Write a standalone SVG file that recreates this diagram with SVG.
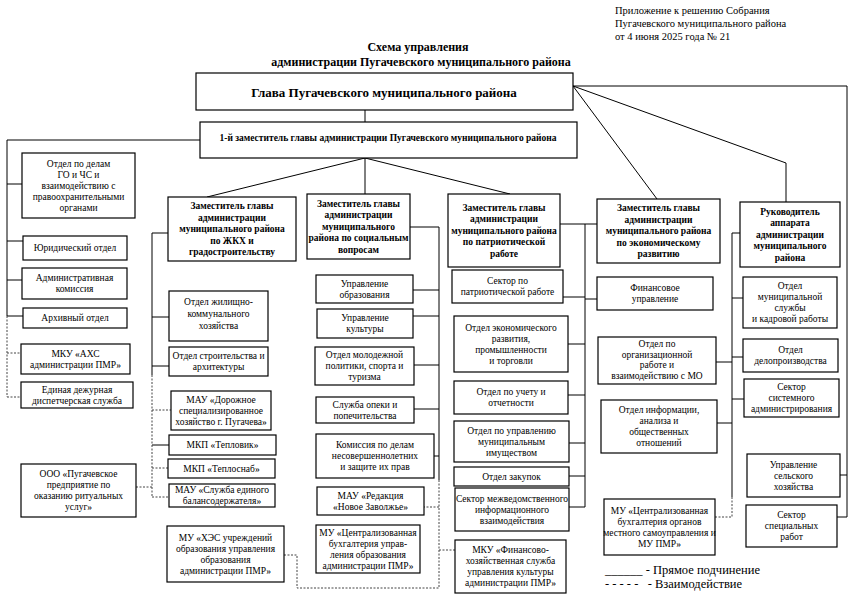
<svg xmlns="http://www.w3.org/2000/svg" width="856" height="601" viewBox="0 0 856 601">
<style>
.bx{fill:#fff;stroke:#000;stroke-width:1.2}
.t{font-family:"Liberation Serif","Times New Roman",serif;font-size:9.5px;text-anchor:middle;fill:#000}
.b{font-weight:bold}
.ln{stroke:#000;stroke-width:1;fill:none}
.dl{stroke:#444;stroke-width:1;fill:none;stroke-dasharray:2 1.5}
.hd{font-family:"Liberation Serif","Times New Roman",serif;font-size:10.5px;fill:#000}
.ti{font-family:"Liberation Serif","Times New Roman",serif;font-size:12px;font-weight:bold;text-anchor:middle;fill:#000}
.lg{font-family:"Liberation Serif","Times New Roman",serif;font-size:12.5px;fill:#000;white-space:pre}
</style>
<rect width="856" height="601" fill="#fff"/>
<g id="header">
<text class="hd" x="615" y="14">Приложение к решению Собрания</text>
<text class="hd" x="615" y="27">Пугачевского муниципального района</text>
<text class="hd" x="615" y="40">от 4 июня 2025 года № 21</text>
<text class="ti" x="418" y="51">Схема управления</text>
<text class="ti" x="421" y="65.5">администрации Пугачевского муниципального района</text>
</g>
<g id="connectors">
<path class="ln" d="M365 110V122"/>
<path class="ln" d="M200 140H7V316M7 184H22M7 241H23M7 280H22M7 316H23"/>
<path class="dl" d="M7 316V397M7 353H21M7 397H21"/>
<path class="ln" d="M365 158L207 197M365 158V194M365 158L510 194"/>
<path class="ln" d="M573 86H847V517M847 475H840M847 517H837"/>
<path class="ln" d="M573 86L786 163V202M573 86L657 199"/>
<path class="ln" d="M168 233H152V375M152 317H169M152 366H169M152 445H169"/>
<path class="dl" d="M152 375V497M152 410H171M152 468H168M152 497H169M136 487H152"/>
<path class="ln" d="M410 227H439V480M439 290H413M439 316H413M439 365H414M439 409H414M439 456H434"/>
<path class="dl" d="M439 480V588H297V555H284M439 507H424M439 550H455"/>
<path class="ln" d="M560 224H597M585 224V507M585 297H563M585 344H568M585 395H568M585 443H569M585 476H569M585 507H569M585 299H597"/>
<path class="ln" d="M740 233H732V497M732 298H743M732 357H743M732 399H744M732 362H716M732 423H717"/>
<path class="dl" d="M732 497V517H715"/>
</g>
<g id="glava"><rect class="bx" x="196" y="73" width="377" height="37"/><text class="t b" x="384" y="96.5" style="font-size:13px">Глава Пугачевского муниципального района</text></g>
<g id="dep1"><rect class="bx" x="200" y="122" width="377" height="36"/><text class="t b" x="388" y="141">1-й заместитель главы администрации Пугачевского муниципального района</text></g>

<g id="n1"><rect class="bx" x="22" y="153" width="113" height="65"/><text class="t"><tspan x="78.5" y="167">Отдел по делам</tspan><tspan x="78.5" y="178">ГО и ЧС и</tspan><tspan x="78.5" y="189">взаимодействию с</tspan><tspan x="78.5" y="200">правоохранительными</tspan><tspan x="78.5" y="211">органами</tspan></text></g>
<g id="n2"><rect class="bx" x="23" y="236" width="104" height="24"/><text class="t" x="75" y="251.4">Юридический отдел</text></g>
<g id="n3"><rect class="bx" x="22" y="268" width="105" height="31"/><text class="t"><tspan x="74.5" y="281.4">Административная</tspan><tspan x="74.5" y="292.4">комиссия</tspan></text></g>
<g id="n4"><rect class="bx" x="23" y="308" width="104" height="20"/><text class="t" x="75" y="321.4">Архивный отдел</text></g>
<g id="n5"><rect class="bx" x="21" y="344" width="109" height="30"/><text class="t"><tspan x="75.5" y="356.9">МКУ «АХС</tspan><tspan x="75.5" y="367.9">администрации ПМР»</tspan></text></g>
<g id="n6"><rect class="bx" x="21" y="382" width="112" height="26"/><text class="t"><tspan x="77" y="392.9">Единая дежурная</tspan><tspan x="77" y="403.9">диспетчерская служба</tspan></text></g>
<g id="n7"><rect class="bx" x="21" y="464" width="115" height="53"/><text class="t"><tspan x="78.5" y="477.4">ООО «Пугачевское</tspan><tspan x="78.5" y="488.4">предприятие по</tspan><tspan x="78.5" y="499.4">оказанию ритуальных</tspan><tspan x="78.5" y="510.4">услуг»</tspan></text></g>

<g id="d1"><rect class="bx" x="168" y="197" width="128" height="64"/><text class="t b"><tspan x="232" y="209.4">Заместитель главы</tspan><tspan x="232" y="220.9">администрации</tspan><tspan x="232" y="232.4">муниципального района</tspan><tspan x="232" y="243.9">по ЖКХ и</tspan><tspan x="232" y="255.4">градостроительству</tspan></text></g>
<g id="n9"><rect class="bx" x="169" y="291" width="99" height="50"/><text class="t"><tspan x="218.5" y="305">Отдел жилищно-</tspan><tspan x="218.5" y="317">коммунального</tspan><tspan x="218.5" y="329">хозяйства</tspan></text></g>
<g id="n10"><rect class="bx" x="169" y="347" width="99" height="29"/><text class="t"><tspan x="218.5" y="359.4">Отдел строительства и</tspan><tspan x="218.5" y="370.4">архитектуры</tspan></text></g>
<g id="n11"><rect class="bx" x="171" y="391" width="100" height="39"/><text class="t"><tspan x="221" y="402.9">МАУ «Дорожное</tspan><tspan x="221" y="413.9">специализированное</tspan><tspan x="221" y="424.9">хозяйство г. Пугачева»</tspan></text></g>
<g id="n12"><rect class="bx" x="169" y="435" width="107" height="20"/><text class="t" x="222.5" y="448.4">МКП «Тепловик»</text></g>
<g id="n13"><rect class="bx" x="168" y="459" width="107" height="19"/><text class="t" x="221.5" y="471.9">МКП «Теплоснаб»</text></g>
<g id="n14"><rect class="bx" x="169" y="484" width="106" height="23"/><text class="t"><tspan x="222" y="493.4">МАУ «Служба единого</tspan><tspan x="222" y="504.4">балансодержателя»</tspan></text></g>
<g id="n15"><rect class="bx" x="167" y="526" width="117" height="56"/><text class="t"><tspan x="225.5" y="540.9">МУ «ХЭС учреждений</tspan><tspan x="225.5" y="551.9">образования управления</tspan><tspan x="225.5" y="562.9">образования</tspan><tspan x="225.5" y="573.9">администрации ПМР»</tspan></text></g>

<g id="d2"><rect class="bx" x="307" y="194" width="103" height="65"/><text class="t b"><tspan x="358.5" y="206.9">Заместитель главы</tspan><tspan x="358.5" y="218.4">администрации</tspan><tspan x="358.5" y="229.9">муниципального</tspan><tspan x="358.5" y="241.4">района по социальным</tspan><tspan x="358.5" y="252.9">вопросам</tspan></text></g>
<g id="n17"><rect class="bx" x="316" y="275" width="97" height="28"/><text class="t"><tspan x="364.5" y="286.9">Управление</tspan><tspan x="364.5" y="297.9">образования</tspan></text></g>
<g id="n18"><rect class="bx" x="317" y="309" width="96" height="29"/><text class="t"><tspan x="365" y="321.4">Управление</tspan><tspan x="365" y="332.4">культуры</tspan></text></g>
<g id="n19"><rect class="bx" x="315" y="347" width="99" height="38"/><text class="t"><tspan x="364.5" y="358.4">Отдел молодежной</tspan><tspan x="364.5" y="369.4">политики, спорта и</tspan><tspan x="364.5" y="380.4">туризма</tspan></text></g>
<g id="n20"><rect class="bx" x="316" y="397" width="98" height="26"/><text class="t"><tspan x="365" y="407.9">Служба опеки и</tspan><tspan x="365" y="418.9">попечительства</tspan></text></g>
<g id="n21"><rect class="bx" x="316" y="434" width="118" height="44"/><text class="t"><tspan x="375" y="448.4">Комиссия по делам</tspan><tspan x="375" y="459.4">несовершеннолетних</tspan><tspan x="375" y="470.4">и защите их прав</tspan></text></g>
<g id="n22"><rect class="bx" x="317" y="487" width="107" height="28"/><text class="t"><tspan x="370.5" y="498.9">МАУ «Редакция</tspan><tspan x="370.5" y="509.9">«Новое Заволжье»</tspan></text></g>
<g id="n23"><rect class="bx" x="316" y="525" width="104" height="48"/><text class="t"><tspan x="368" y="535.9">МУ «Централизованная</tspan><tspan x="368" y="546.9">бухгалтерия управ-</tspan><tspan x="368" y="557.9">ления образования</tspan><tspan x="368" y="568.9">администрации ПМР»</tspan></text></g>

<g id="d3"><rect class="bx" x="448" y="194" width="112" height="73"/><text class="t b"><tspan x="504" y="210.9">Заместитель главы</tspan><tspan x="504" y="222.4">администрации</tspan><tspan x="504" y="233.9">муниципального района</tspan><tspan x="504" y="245.4">по патриотической</tspan><tspan x="504" y="256.9">работе</tspan></text></g>
<g id="n25"><rect class="bx" x="452" y="270" width="111" height="33"/><text class="t"><tspan x="507.5" y="284.4">Сектор по</tspan><tspan x="507.5" y="295.4">патриотической работе</tspan></text></g>
<g id="n26"><rect class="bx" x="454" y="316" width="114" height="56"/><text class="t"><tspan x="511" y="330.9">Отдел экономического</tspan><tspan x="511" y="341.9">развития,</tspan><tspan x="511" y="352.9">промышленности</tspan><tspan x="511" y="363.9">и торговли</tspan></text></g>
<g id="n27"><rect class="bx" x="454" y="381" width="114" height="33"/><text class="t"><tspan x="511" y="395.4">Отдел по учету и</tspan><tspan x="511" y="406.4">отчетности</tspan></text></g>
<g id="n28"><rect class="bx" x="454" y="421" width="115" height="41"/><text class="t"><tspan x="511.5" y="433.9">Отдел по управлению</tspan><tspan x="511.5" y="444.9">муниципальным</tspan><tspan x="511.5" y="455.9">имуществом</tspan></text></g>
<g id="n29"><rect class="bx" x="454" y="467" width="115" height="19"/><text class="t" x="511.5" y="479.9">Отдел закупок</text></g>
<g id="n30"><rect class="bx" x="455" y="488" width="114" height="43"/><text class="t"><tspan x="512" y="501.9">Сектор межведомственного</tspan><tspan x="512" y="512.9">информационного</tspan><tspan x="512" y="523.9">взаимодействия</tspan></text></g>
<g id="n31"><rect class="bx" x="455" y="540" width="111" height="53"/><text class="t"><tspan x="510.5" y="553.4">МКУ «Финансово-</tspan><tspan x="510.5" y="564.4">хозяйственная служба</tspan><tspan x="510.5" y="575.4">управления культуры</tspan><tspan x="510.5" y="586.4">администрации ПМР»</tspan></text></g>

<g id="d4"><rect class="bx" x="597" y="199" width="123" height="64"/><text class="t b"><tspan x="658.5" y="211.4">Заместитель главы</tspan><tspan x="658.5" y="222.9">администрации</tspan><tspan x="658.5" y="234.4">муниципального района</tspan><tspan x="658.5" y="245.9">по экономическому</tspan><tspan x="658.5" y="257.4">развитию</tspan></text></g>
<g id="n33"><rect class="bx" x="597" y="277" width="116" height="33"/><text class="t"><tspan x="655" y="291">Финансовое</tspan><tspan x="655" y="302">управление</tspan></text></g>
<g id="n34"><rect class="bx" x="598" y="337" width="118" height="47"/><text class="t"><tspan x="657" y="347">Отдел по</tspan><tspan x="657" y="357.5">организационной</tspan><tspan x="657" y="368">работе и</tspan><tspan x="657" y="378.5">взаимодействию с МО</tspan></text></g>
<g id="n35"><rect class="bx" x="601" y="400" width="116" height="53"/><text class="t"><tspan x="659" y="413.4">Отдел информации,</tspan><tspan x="659" y="424.4">анализа и</tspan><tspan x="659" y="435.4">общественных</tspan><tspan x="659" y="446.4">отношений</tspan></text></g>
<g id="n36"><rect class="bx" x="604" y="499" width="111" height="56"/><text class="t"><tspan x="659.5" y="513.9">МУ «Централизованная</tspan><tspan x="659.5" y="524.9">бухгалтерия органов</tspan><tspan x="659.5" y="535.9">местного самоуправления и</tspan><tspan x="659.5" y="546.9">МУ ПМР»</tspan></text></g>

<g id="d5"><rect class="bx" x="740" y="202" width="100" height="65"/><text class="t b"><tspan x="790" y="214.9">Руководитель</tspan><tspan x="790" y="226.4">аппарата</tspan><tspan x="790" y="237.9">администрации</tspan><tspan x="790" y="249.4">муниципального</tspan><tspan x="790" y="260.9">района</tspan></text></g>
<g id="n38"><rect class="bx" x="743" y="277" width="94" height="51"/><text class="t"><tspan x="790" y="289.4">Отдел</tspan><tspan x="790" y="300.4">муниципальной</tspan><tspan x="790" y="311.4">службы</tspan><tspan x="790" y="322.4">и кадровой работы</tspan></text></g>
<g id="n39"><rect class="bx" x="743" y="339" width="95" height="33"/><text class="t"><tspan x="790.5" y="353.4">Отдел</tspan><tspan x="790.5" y="364.4">делопроизводства</tspan></text></g>
<g id="n40"><rect class="bx" x="744" y="379" width="95" height="38"/><text class="t"><tspan x="791.5" y="390.4">Сектор</tspan><tspan x="791.5" y="401.4">системного</tspan><tspan x="791.5" y="412.4">администрирования</tspan></text></g>
<g id="n41"><rect class="bx" x="747" y="454" width="93" height="43"/><text class="t"><tspan x="793.5" y="467.9">Управление</tspan><tspan x="793.5" y="478.9">сельского</tspan><tspan x="793.5" y="489.9">хозяйства</tspan></text></g>
<g id="n42"><rect class="bx" x="746" y="505" width="91" height="42"/><text class="t"><tspan x="791.5" y="518.4">Сектор</tspan><tspan x="791.5" y="529.4">специальных</tspan><tspan x="791.5" y="540.4">работ</tspan></text></g>

<g id="legend">
<text class="lg" x="605" y="574">______ - Прямое подчинение</text>
<text class="lg" x="605" y="588">- - - - -   - Взаимодействие</text>
</g>
</svg>
